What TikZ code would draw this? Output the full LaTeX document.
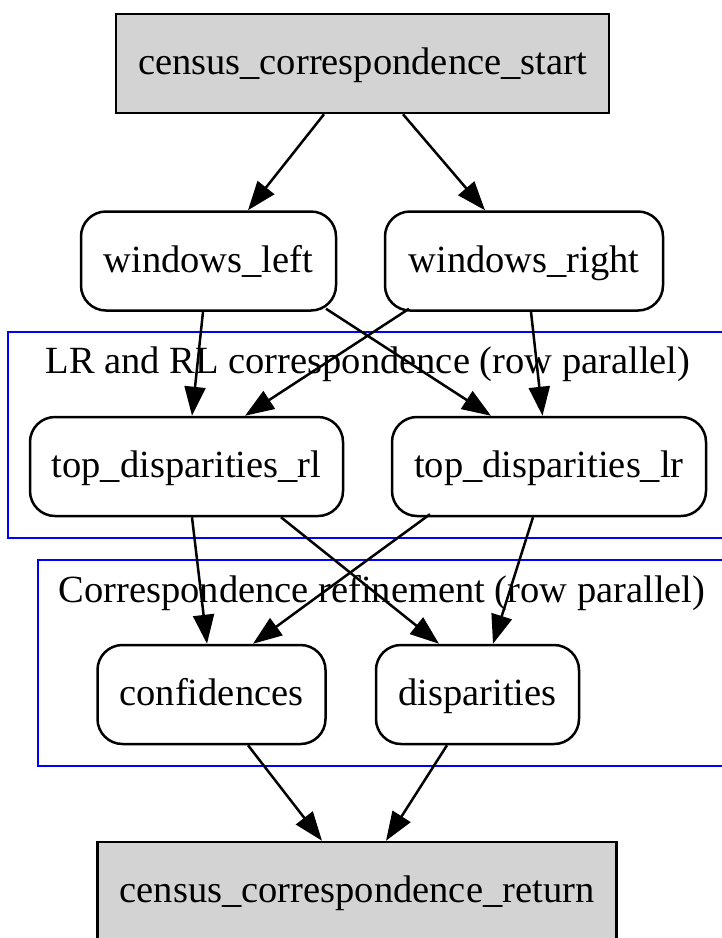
\documentclass[tikz,border=0pt]{standalone}
\usepackage{fontspec}
\setmainfont{Liberation Serif}
\usetikzlibrary{arrows.meta}
\definecolor{termgray}{RGB}{211,211,211}
\begin{document}
\begin{tikzpicture}[x=1pt,y=-1pt,
  every node/.style={font=\fontsize{38.5}{46}\selectfont, inner sep=0pt},
  box/.style={draw=black, line width=2.5pt, minimum height=99pt, text height=30pt, text depth=8pt},
  term/.style={box, fill=termgray},
  task/.style={box, rounded corners=25pt},
  cluster/.style={draw=blue, line width=2.5pt},
  clabel/.style={anchor=base},
  edge/.style={line width=2.5pt, -{Triangle[length=29pt,width=21pt]}}
]
\useasboundingbox (0,0) rectangle (721,938);

% clusters
\draw[cluster] (8,332) rectangle (730,538);
\node[clabel] (c1lbl) at (368,373) {LR and RL correspondence (row parallel)};
\draw[cluster] (38,560) rectangle (730,766);
\node[clabel] (c2lbl) at (382,602) {Correspondence refinement (row parallel)};

% nodes
\node[term, minimum width=493pt] (start) at (362.5,63.5) {census\_correspondence\_start};
\node[task, minimum width=255pt] (wl) at (208.5,261) {windows\_left};
\node[task, minimum width=278pt] (wr) at (524,261) {windows\_right};
\node[task, minimum width=313pt] (trl) at (186.5,466.5) {top\_disparities\_rl};
\node[task, minimum width=314pt] (tlr) at (549,466.5) {top\_disparities\_lr};
\node[task, minimum width=228pt] (conf) at (211.5,694.5) {confidences};
\node[task, minimum width=203pt] (disp) at (477.5,694.5) {disparities};
\node[term, minimum width=519pt] (ret) at (357,891.5) {census\_correspondence\_return};

% edges
\draw[edge] ([xshift=-38.5pt]start.south) -- ([xshift=39.5pt]wl.north);
\draw[edge] ([xshift=40.5pt]start.south) -- ([xshift=-39pt]wr.north);
\draw[edge] ([xshift=-5.5pt]wl.south) -- ([xshift=5.5pt]trl.north);
\draw[edge] ([xshift=117.5pt,yshift=3pt]wl.south) -- ([xshift=-58pt]tlr.north);
\draw[edge] ([xshift=-115pt,yshift=3pt]wr.south) -- ([xshift=58.5pt]trl.north);
\draw[edge] ([xshift=7pt]wr.south) -- ([xshift=-6.5pt]tlr.north);
\draw[edge] ([xshift=5.5pt]trl.south) -- ([xshift=-4.5pt]conf.north);
\draw[edge] ([xshift=94.5pt]trl.south) -- ([xshift=-38.5pt]disp.north);
\draw[edge] ([xshift=-119pt,yshift=3pt]tlr.south) -- ([xshift=41.5pt]conf.north);
\draw[edge] ([xshift=-16pt]tlr.south) -- ([xshift=15.5pt]disp.north);
\draw[edge] ([xshift=36.5pt]conf.south) -- ([xshift=-35pt]ret.north);
\draw[edge] ([xshift=-30.5pt]disp.south) -- ([xshift=29pt]ret.north);
\end{tikzpicture}
\end{document}
